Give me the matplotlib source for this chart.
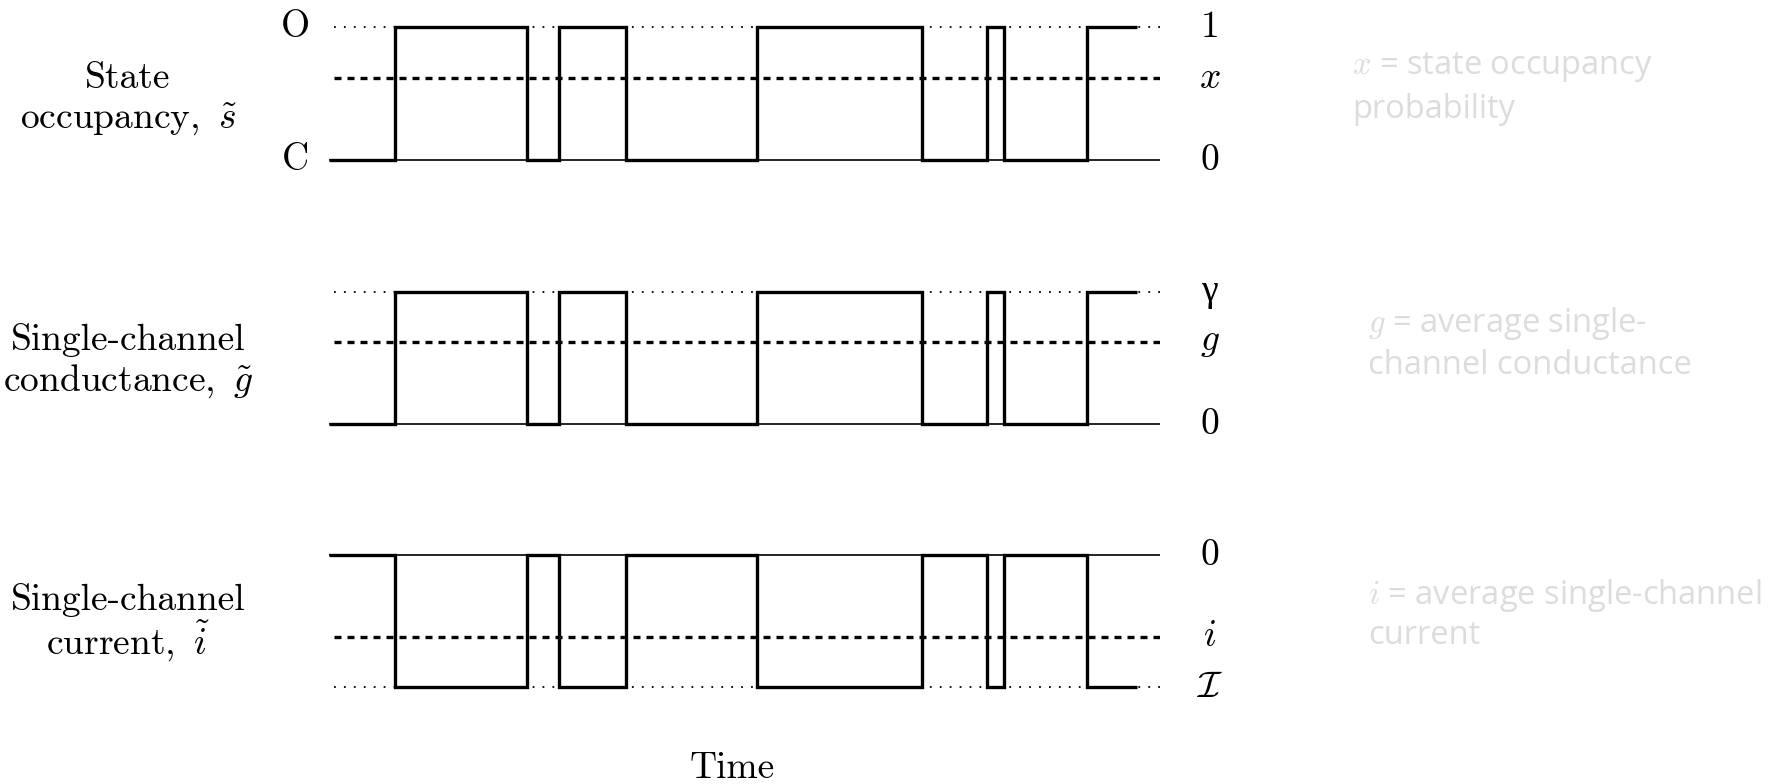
import numpy as np
import matplotlib.pyplot as plt

plt.rcParams['mathtext.fontset'] = 'cm'
plt.rcParams['font.family'] = 'cmr10'
plt.rcParams['axes.unicode_minus'] = False

# single channel record: switching times (arbitrary units) and state of each interval (1 = open)
t_edges = [0, 8.2, 24.5, 28.5, 36.8, 53.0, 73.4, 81.4, 83.5, 93.8, 100.0]
state = [0, 1, 0, 1, 0, 1, 0, 1, 0, 1]
t_end = 102.85
x_occ = 0.62      # state occupancy probability
gamma = 1.0       # unitary conductance (normalised)
I_unit = -1.0     # unitary current (inward, normalised)

s = np.array(state, dtype=float)
g = s * gamma
i = s * I_unit

W, H = 1777, 784
fig = plt.figure(figsize=(W / 100, H / 100), dpi=100)

GREY = '#dcdcdc'
FS = 27


def make_ax(y_top, y_bot, lo, hi):
    # y_top / y_bot: pixel rows where hi / lo sit
    pad = 0.15
    span = y_bot - y_top
    top = y_top - pad * span
    bot = y_bot + pad * span
    ax = fig.add_axes([329 / W, 1 - bot / H, (1160 - 329) / W, (bot - top) / H])
    ax.set_xlim(0, t_end)
    ax.set_ylim(lo - pad * (hi - lo), hi + pad * (hi - lo))
    ax.axis('off')
    return ax


def draw_panel(ax, vals, zero, full, mean):
    ax.plot([0, t_end], [zero, zero], color='k', lw=1.2)
    ax.plot([0.6, t_end], [full, full], color='k', lw=1.3, ls=(0, (1, 4.5)))
    ax.plot([0.6, t_end], [mean, mean], color='k', lw=2.4, ls=(0, (2.1, 1.8)))
    ax.stairs(vals, t_edges, baseline=None, color='k', lw=2.4)


# state occupancy
ax1 = make_ax(27.5, 160.5, 0, 1)
draw_panel(ax1, s, 0, 1, x_occ)
ax1.text(-4.1, 1, 'O', ha='center', va='center', fontsize=FS)
ax1.text(-4.1, 0, 'C', ha='center', va='center', fontsize=FS)
ax1.text(109.0, 1, '1', ha='center', va='center', fontsize=FS)
ax1.text(109.0, x_occ, '$x$', ha='center', va='center', fontsize=FS)
ax1.text(109.0, 0, '0', ha='center', va='center', fontsize=FS)

# conductance
ax2 = make_ax(292, 424, 0, gamma)
draw_panel(ax2, g, 0, gamma, x_occ * gamma)
ax2.text(109.0, gamma, 'γ', ha='center', va='center', fontsize=FS, family='Liberation Serif')
ax2.text(109.0, x_occ * gamma, '$g$', ha='center', va='center', fontsize=FS)
ax2.text(109.0, 0, '0', ha='center', va='center', fontsize=FS)

# current
ax3 = make_ax(555, 687, I_unit, 0)
draw_panel(ax3, i, 0, I_unit, x_occ * I_unit)
ax3.text(109.0, 0, '0', ha='center', va='center', fontsize=FS)
ax3.text(109.0, x_occ * I_unit, '$i$', ha='center', va='center', fontsize=FS)
ax3.text(109.0, I_unit, r'$\mathcal{I}$', ha='center', va='center', fontsize=FS)

# row labels
fig.text(128 / W, 1 - 78 / H, 'State', ha='center', va='center', fontsize=FS)
fig.text(128 / W, 1 - 120 / H, r'occupancy, $\,\tilde{s}$', ha='center', va='center', fontsize=FS)
fig.text(128 / W, 1 - 340 / H, 'Single-channel', ha='center', va='center', fontsize=FS)
fig.text(128 / W, 1 - 381 / H, r'conductance, $\,\tilde{g}$', ha='center', va='center', fontsize=FS)
fig.text(128 / W, 1 - 600 / H, 'Single-channel', ha='center', va='center', fontsize=FS)
fig.text(128 / W, 1 - 641 / H, r'current, $\,\tilde{i}$', ha='center', va='center', fontsize=FS)

fig.text(732 / W, 1 - 768 / H, 'Time', ha='center', va='center', fontsize=FS)

# notes
notes = [
    (1352, 67, '$x$ = state occupancy'),
    (1352, 110, 'probability'),
    (1368, 324, '$g$ = average single-'),
    (1368, 366, 'channel conductance'),
    (1368, 595, '$i$ = average single-channel'),
    (1368, 636, 'current'),
]
for nx, ny, txt in notes:
    fig.text(nx / W, 1 - ny / H, txt, ha='left', va='center', fontsize=23.5,
             family='Open Sans', color=GREY)

fig.savefig('out.png', dpi=100)
